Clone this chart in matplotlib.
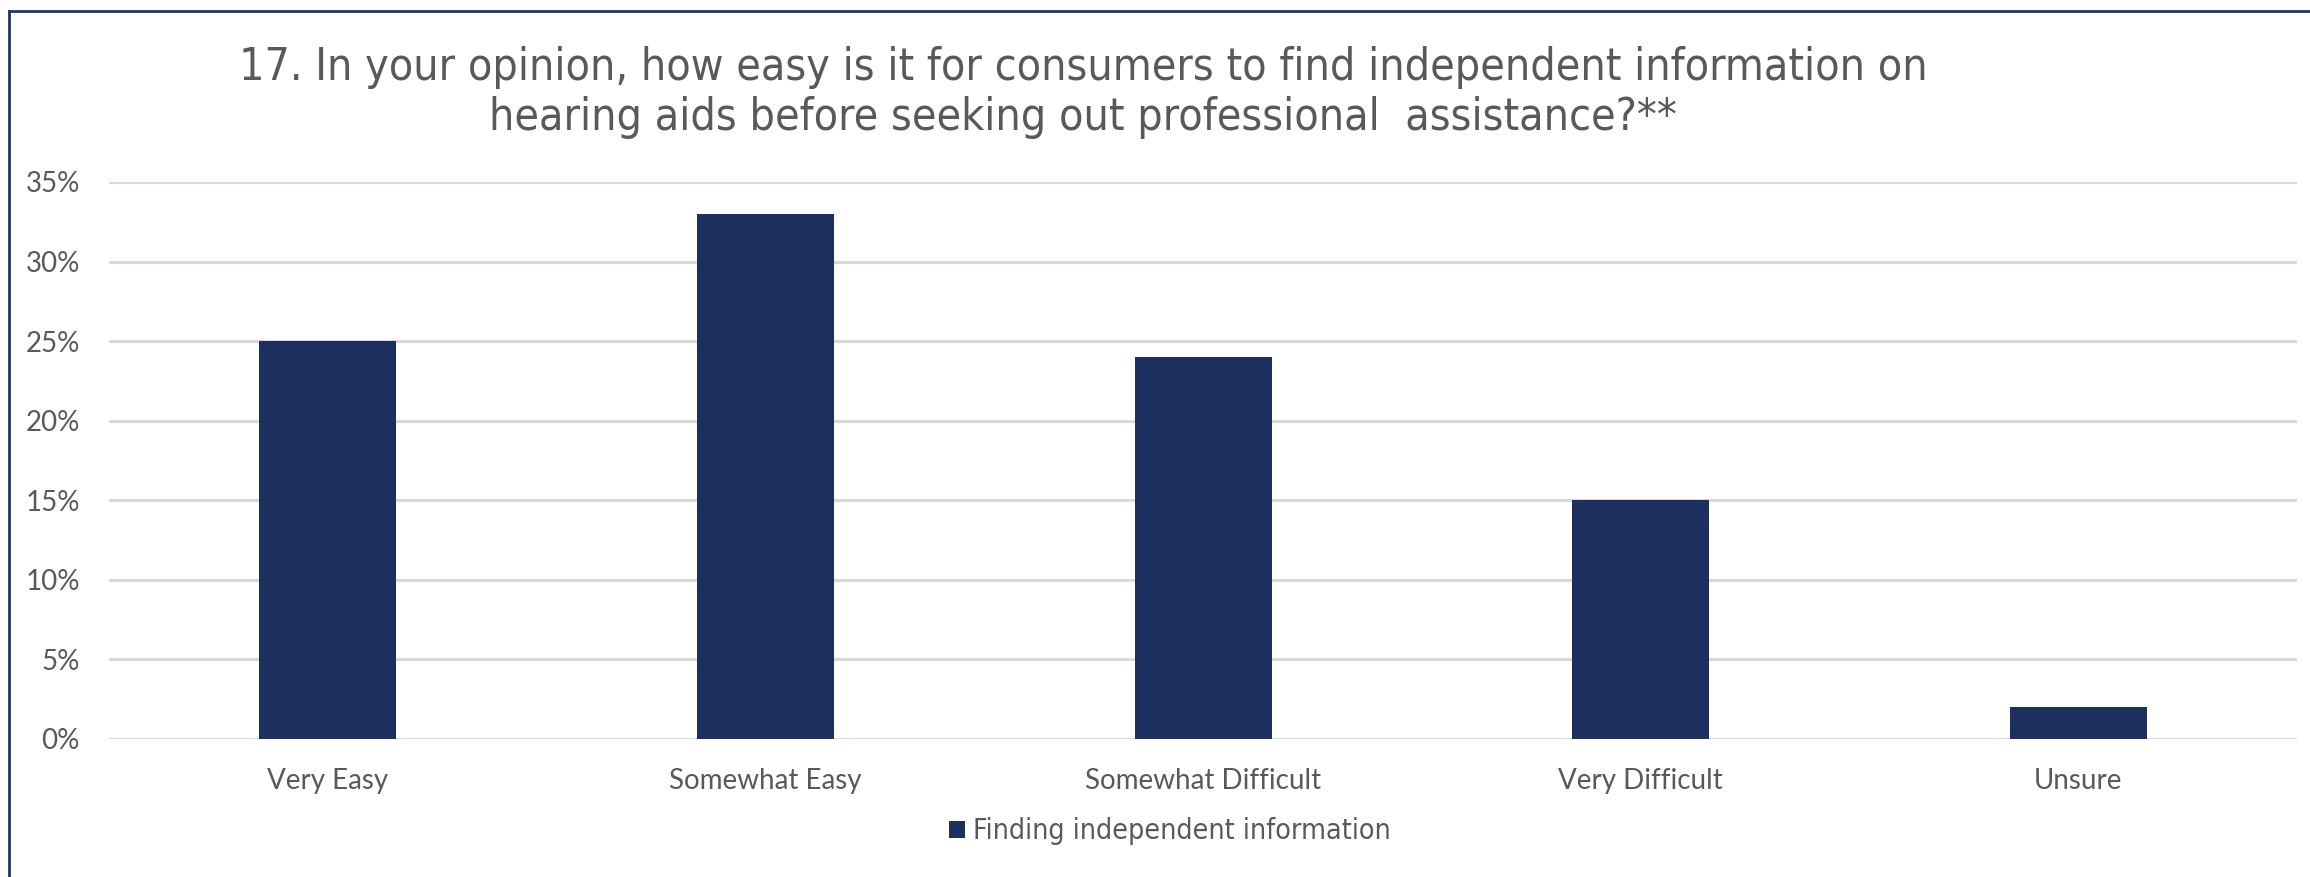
import matplotlib
matplotlib.use("Agg")
import matplotlib.pyplot as plt
from matplotlib.lines import Line2D
from matplotlib.ticker import MultipleLocator, FuncFormatter

# Survey answers, share of respondents (%)
categories = ["Very Easy", "Somewhat Easy", "Somewhat Difficult", "Very Difficult", "Unsure"]
shares = [25, 33, 24, 15, 2]
series_name = "Finding independent information"
title = ("17. In your opinion, how easy is it for consumers to find independent information on\n"
         "hearing aids before seeking out professional  assistance?**")

navy = "#1B305E"
text_grey = "#595959"
grid_grey = "#D9D9D9"
frame_blue = "#1F3864"

fig = plt.figure(figsize=(23.1, 8.77), dpi=100)
ax = fig.add_axes([0.0472, 0.1574, 0.9472, 0.6351])

x = range(len(categories))
ax.bar(x, shares, width=0.313, color=navy, label=series_name, zorder=3)

ax.set_xlim(-0.5, len(categories) - 0.5)
ax.set_ylim(0, 35)
ax.yaxis.set_major_locator(MultipleLocator(5))
ax.yaxis.set_major_formatter(FuncFormatter(lambda v, _: f"{v:.0f}%"))
ax.set_xticks(list(x))
ax.set_xticklabels(categories)
ax.grid(axis="y", color=grid_grey, linewidth=2.2, zorder=0)
ax.set_axisbelow(True)
for s in ax.spines.values():
    s.set_visible(False)
ax.tick_params(axis="both", length=0, colors=text_grey, labelsize=20)
ax.tick_params(axis="y", pad=21)
ax.tick_params(axis="x", pad=21)
for lbl in ax.get_xticklabels() + ax.get_yticklabels():
    lbl.set_fontfamily("Lato")
    lbl.set_color(text_grey)

fig.text(0.469, 1 - 130 / 877, title, ha="center", va="baseline", fontsize=32,
         color=text_grey, family="DejaVu Sans", fontstretch="condensed",
         linespacing=1.2)

leg = fig.legend(loc="center", bbox_to_anchor=(0.5066, 0.052), frameon=False,
                 handlelength=0.55, handleheight=0.55, handletextpad=0.3,
                 prop={"family": "DejaVu Sans", "stretch": "condensed", "size": 20.5})
for t in leg.get_texts():
    t.set_color(text_grey)

# outer frame along the left and top edges
fig.add_artist(Line2D([0.0039, 0.0039], [0, 1 - 11 / 877], transform=fig.transFigure,
                      color=frame_blue, linewidth=2))
fig.add_artist(Line2D([0.0039, 1], [1 - 11 / 877, 1 - 11 / 877], transform=fig.transFigure,
                      color=frame_blue, linewidth=2))

fig.savefig("out.png", dpi=100, facecolor="white")
